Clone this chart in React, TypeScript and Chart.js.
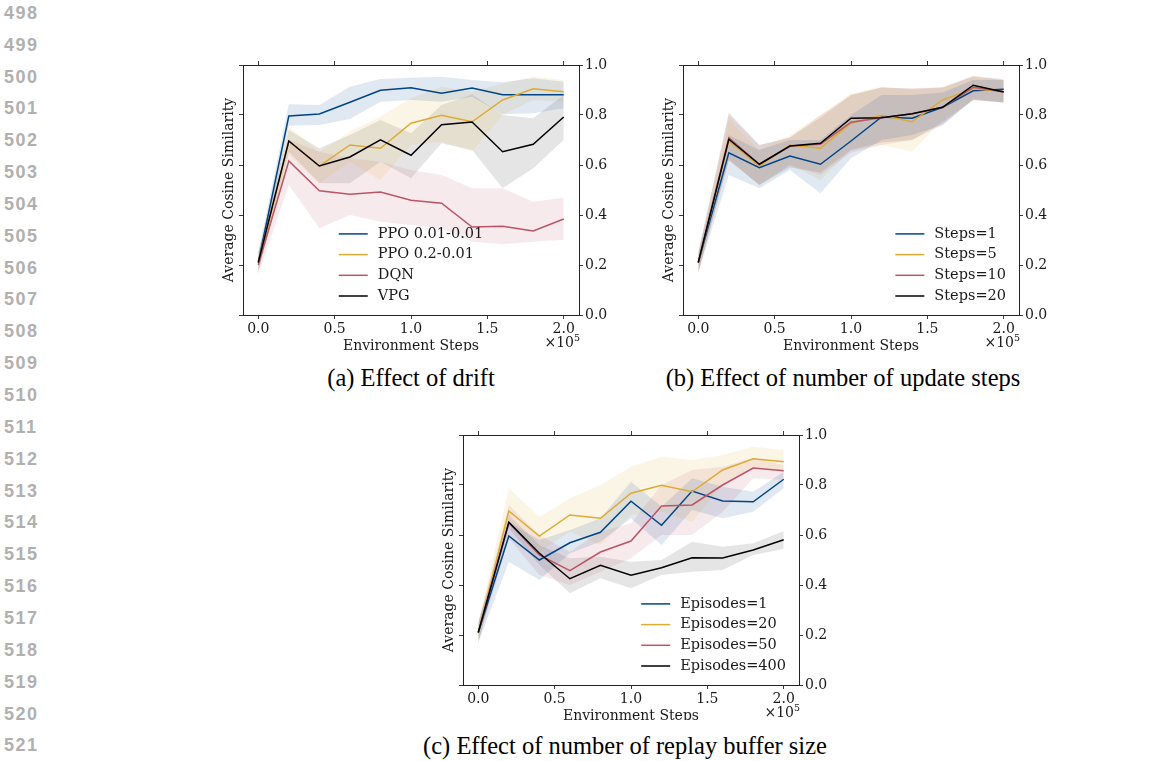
import React, { useEffect, useRef } from "react";
import { Chart, registerables } from "chart.js";
Chart.register(...registerables);

// ---------------- data ----------------
const steps = [0, 0.2, 0.4, 0.6, 0.8, 1.0, 1.2, 1.4, 1.6, 1.8, 2.0];
const xTicks = [0, 0.5, 1.0, 1.5, 2.0];
const yTicks = [0, 0.2, 0.4, 0.6, 0.8, 1.0];
const lineNumbers = [498, 499, 500, 501, 502, 503, 504, 505, 506, 507, 508, 509, 510, 511, 512, 513, 514, 515, 516, 517, 518, 519, 520, 521];

const COLORS = ["#004488", "#DDAA33", "#BB5566", "#000000"];
const BANDS = ["rgba(0,68,136,0.12)", "rgba(221,170,51,0.12)", "rgba(187,85,102,0.12)", "rgba(0,0,0,0.1)"];

// (a) Effect of drift
const driftLabels = ["PPO 0.01-0.01", "PPO 0.2-0.01", "DQN", "VPG"];
const ppo001Mean = [0.21, 0.796, 0.804, 0.851, 0.899, 0.909, 0.887, 0.908, 0.881, 0.881, 0.881];
const ppo001Hi = [0.25, 0.843, 0.84, 0.913, 0.944, 0.949, 0.953, 0.94, 0.931, 0.947, 0.933];
const ppo001Lo = [0.17, 0.757, 0.76, 0.784, 0.853, 0.86, 0.853, 0.873, 0.803, 0.807, 0.827];
const ppo02Mean = [0.21, 0.696, 0.596, 0.68, 0.667, 0.767, 0.799, 0.773, 0.86, 0.905, 0.893];
const ppo02Hi = [0.25, 0.753, 0.653, 0.733, 0.793, 0.867, 0.913, 0.893, 0.927, 0.953, 0.94];
const ppo02Lo = [0.17, 0.64, 0.527, 0.613, 0.54, 0.68, 0.693, 0.653, 0.8, 0.86, 0.853];
const dqnMean = [0.2, 0.616, 0.497, 0.483, 0.492, 0.459, 0.447, 0.352, 0.355, 0.336, 0.384];
const dqnHi = [0.24, 0.7, 0.653, 0.627, 0.613, 0.58, 0.56, 0.507, 0.507, 0.453, 0.469];
const dqnLo = [0.16, 0.52, 0.347, 0.4, 0.373, 0.36, 0.347, 0.293, 0.283, 0.293, 0.3];
const vpgMean = [0.21, 0.696, 0.596, 0.632, 0.701, 0.639, 0.761, 0.772, 0.653, 0.683, 0.792];
const vpgHi = [0.25, 0.74, 0.667, 0.72, 0.78, 0.727, 0.84, 0.883, 0.8, 0.787, 0.88];
const vpgLo = [0.17, 0.653, 0.527, 0.527, 0.613, 0.547, 0.687, 0.66, 0.507, 0.587, 0.7];

// (b) Effect of number of update steps
const stepLabels = ["Steps=1", "Steps=5", "Steps=10", "Steps=20"];
const s1Mean = [0.21, 0.649, 0.589, 0.636, 0.603, 0.696, 0.792, 0.787, 0.831, 0.897, 0.903];
const s1Hi = [0.25, 0.72, 0.66, 0.7, 0.7, 0.8, 0.88, 0.88, 0.89, 0.94, 0.94];
const s1Lo = [0.17, 0.56, 0.507, 0.58, 0.487, 0.627, 0.7, 0.72, 0.76, 0.86, 0.85];
const s5Mean = [0.21, 0.696, 0.596, 0.68, 0.667, 0.767, 0.799, 0.773, 0.86, 0.905, 0.893];
const s5Hi = [0.25, 0.78, 0.66, 0.72, 0.8, 0.887, 0.913, 0.9, 0.91, 0.95, 0.94];
const s5Lo = [0.17, 0.62, 0.52, 0.6, 0.54, 0.66, 0.68, 0.653, 0.78, 0.86, 0.85];
const s10Mean = [0.21, 0.709, 0.603, 0.676, 0.683, 0.771, 0.789, 0.805, 0.831, 0.911, 0.893];
const s10Hi = [0.25, 0.8, 0.68, 0.71, 0.8, 0.88, 0.91, 0.907, 0.911, 0.957, 0.944];
const s10Lo = [0.17, 0.62, 0.52, 0.6, 0.56, 0.65, 0.68, 0.7, 0.76, 0.865, 0.85];
const s20Mean = [0.21, 0.703, 0.603, 0.676, 0.687, 0.787, 0.789, 0.805, 0.831, 0.919, 0.892];
const s20Hi = [0.25, 0.81, 0.68, 0.71, 0.79, 0.88, 0.91, 0.905, 0.91, 0.955, 0.94];
const s20Lo = [0.17, 0.62, 0.52, 0.59, 0.57, 0.66, 0.69, 0.7, 0.77, 0.86, 0.85];

// (c) Effect of number of replay buffer size
const episodeLabels = ["Episodes=1", "Episodes=20", "Episodes=50", "Episodes=400"];
const e1Mean = [0.21, 0.596, 0.5, 0.569, 0.611, 0.735, 0.639, 0.776, 0.736, 0.733, 0.823];
const e1Hi = [0.25, 0.653, 0.58, 0.62, 0.667, 0.813, 0.713, 0.827, 0.793, 0.773, 0.853];
const e1Lo = [0.17, 0.493, 0.42, 0.527, 0.573, 0.667, 0.56, 0.7, 0.667, 0.693, 0.787];
const e20Mean = [0.21, 0.696, 0.596, 0.68, 0.667, 0.767, 0.799, 0.773, 0.86, 0.905, 0.893];
const e20Hi = [0.25, 0.787, 0.673, 0.747, 0.8, 0.873, 0.913, 0.9, 0.92, 0.953, 0.94];
const e20Lo = [0.17, 0.64, 0.533, 0.613, 0.56, 0.68, 0.693, 0.653, 0.8, 0.867, 0.853];
const e50Mean = [0.21, 0.649, 0.52, 0.457, 0.532, 0.576, 0.716, 0.72, 0.8, 0.868, 0.857];
const e50Hi = [0.25, 0.72, 0.6, 0.533, 0.613, 0.647, 0.8, 0.86, 0.873, 0.907, 0.88];
const e50Lo = [0.17, 0.587, 0.44, 0.4, 0.453, 0.507, 0.6, 0.6, 0.693, 0.827, 0.82];
const e400Mean = [0.21, 0.651, 0.527, 0.425, 0.479, 0.439, 0.469, 0.509, 0.508, 0.54, 0.581];
const e400Hi = [0.25, 0.68, 0.56, 0.507, 0.513, 0.493, 0.5, 0.573, 0.553, 0.567, 0.616];
const e400Lo = [0.17, 0.627, 0.48, 0.367, 0.427, 0.387, 0.44, 0.453, 0.46, 0.52, 0.544];

// ---------------- chart ----------------
type Series = { label: string; mean: number[]; hi: number[]; lo: number[]; color: string; band: string };

const makeSeries = (labels: string[], means: number[][], his: number[][], los: number[][]): Series[] =>
  labels.map((label, i) => ({ label, mean: means[i], hi: his[i], lo: los[i], color: COLORS[i], band: BANDS[i] }));

const seriesA = makeSeries(driftLabels, [ppo001Mean, ppo02Mean, dqnMean, vpgMean], [ppo001Hi, ppo02Hi, dqnHi, vpgHi], [ppo001Lo, ppo02Lo, dqnLo, vpgLo]);
const seriesB = makeSeries(stepLabels, [s1Mean, s5Mean, s10Mean, s20Mean], [s1Hi, s5Hi, s10Hi, s20Hi], [s1Lo, s5Lo, s10Lo, s20Lo]);
const seriesC = makeSeries(episodeLabels, [e1Mean, e20Mean, e50Mean, e400Mean], [e1Hi, e20Hi, e50Hi, e400Hi], [e1Lo, e20Lo, e50Lo, e400Lo]);

const FAMILY = "'DejaVu Serif'";
const FSIZE = 14;
const LEGEND_FSIZE = 14.5;
const TEXT = "#1a1a1a";
const SPINE = "#222";

const CW = 425;
const CH = 330;
const AX_LEFT = 43;
const AX_RIGHT = 46;
const AX_TOP = 20;
const AX_BOTTOM = 60;

function Panel(props: { series: Series[]; legendMode: "center" | "right"; left: number; top: number; clip: number }) {
  const ref = useRef<HTMLCanvasElement>(null);
  useEffect(() => {
    const { series, legendMode } = props;
    const pts = (arr: number[]) => steps.map((x, i) => ({ x, y: arr[i] }));
    const datasets: any[] = [];
    series.forEach((s, i) => {
      datasets.push({
        label: s.label,
        data: pts(s.mean),
        borderColor: s.color,
        borderWidth: 1.5,
        pointRadius: 0,
        fill: false,
        tension: 0,
        order: 10 - i,
        xAxisID: "x",
        yAxisID: "y",
      });
    });
    series.forEach((s) => {
      datasets.push({
        label: s.label + " upper",
        data: pts(s.hi),
        borderWidth: 0,
        borderColor: "rgba(0,0,0,0)",
        backgroundColor: s.band,
        pointRadius: 0,
        fill: "+1",
        tension: 0,
        order: 100,
        xAxisID: "x",
        yAxisID: "y",
      });
      datasets.push({
        label: s.label + " lower",
        data: pts(s.lo),
        borderWidth: 0,
        borderColor: "rgba(0,0,0,0)",
        pointRadius: 0,
        fill: false,
        tension: 0,
        order: 100,
        xAxisID: "x",
        yAxisID: "y",
      });
    });

    const font = { family: FAMILY, size: FSIZE };
    const grid = { display: true, drawOnChartArea: false, drawTicks: true, tickLength: 4, tickWidth: 0.9, tickColor: SPINE };
    const border = { display: true, color: SPINE, width: 1 };
    const setX = (s: any) => { s.ticks = xTicks.map((v) => ({ value: v })); };
    const setY = (s: any) => { s.ticks = yTicks.map((v) => ({ value: v })); };

    const deco = {
      id: "deco",
      afterDatasetsDraw(chart: any) {
        const { ctx, chartArea } = chart;
        ctx.save();
        ctx.font = `${LEGEND_FSIZE}px ${FAMILY}`;
        const maxW = Math.max(...series.map((s) => ctx.measureText(s.label).width));
        const lineLen = 29, gap = 10, rowH = 20.7;
        let textX: number;
        if (legendMode === "center") {
          const total = lineLen + gap + maxW;
          textX = (chartArea.left + chartArea.right) / 2 - total / 2 + lineLen + gap;
        } else {
          textX = chartArea.right - 13 - maxW;
        }
        series.forEach((s, i) => {
          const y = chartArea.bottom - 19 - (series.length - 1 - i) * rowH;
          ctx.strokeStyle = s.color;
          ctx.lineWidth = 1.5;
          ctx.beginPath();
          ctx.moveTo(textX - gap - lineLen, y);
          ctx.lineTo(textX - gap, y);
          ctx.stroke();
          ctx.fillStyle = TEXT;
          ctx.textBaseline = "middle";
          ctx.textAlign = "left";
          ctx.fillText(s.label, textX, y);
        });
        // offset text  x10^5
        const rightX = chartArea.right + 1;
        const oy = chartArea.bottom + 28;
        ctx.font = `9.5px ${FAMILY}`;
        const w5 = ctx.measureText("5").width;
        ctx.textAlign = "left";
        ctx.fillText("5", rightX - w5, oy - 4);
        ctx.font = `${FSIZE}px ${FAMILY}`;
        ctx.textAlign = "right";
        ctx.fillText("×10", rightX - w5, oy);
        ctx.restore();
      },
    };

    const chart = new Chart(ref.current as HTMLCanvasElement, {
      type: "line",
      data: { datasets },
      options: {
        animation: false,
        responsive: false,
        devicePixelRatio: 1,
        layout: { padding: 0 },
        plugins: { legend: { display: false }, tooltip: { enabled: false }, title: { display: false } },
        scales: {
          x: {
            type: "linear",
            position: "bottom",
            min: -0.1,
            max: 2.1,
            afterBuildTicks: setX,
            afterFit: (s: any) => { s.height = AX_BOTTOM; },
            grid,
            border,
            ticks: { font, color: TEXT, padding: 2, maxRotation: 0, callback: (v: any) => Number(v).toFixed(1) },
            title: { display: true, text: "Environment Steps", font, color: TEXT, padding: { top: 0, bottom: 20.6 } },
          },
          xT: {
            type: "linear",
            position: "top",
            min: -0.1,
            max: 2.1,
            afterBuildTicks: setX,
            afterFit: (s: any) => { s.height = AX_TOP; },
            grid,
            border,
            ticks: { display: false },
          },
          yL: {
            type: "linear",
            position: "left",
            min: 0,
            max: 1,
            afterBuildTicks: setY,
            afterFit: (s: any) => { s.width = AX_LEFT; },
            grid,
            border,
            ticks: { display: false },
            title: { display: true, text: "Average Cosine Similarity", font, color: TEXT, padding: { top: 21.1, bottom: 0 } },
          },
          y: {
            type: "linear",
            position: "right",
            min: 0,
            max: 1,
            afterBuildTicks: setY,
            afterFit: (s: any) => { s.width = AX_RIGHT; },
            grid,
            border,
            ticks: { font, color: TEXT, padding: 2, callback: (v: any) => Number(v).toFixed(1) },
          },
        },
      } as any,
      plugins: [deco],
    });
    return () => chart.destroy();
  }, []);

  return (
    <div style={{ position: "absolute", left: props.left, top: props.top, width: CW, height: props.clip, overflow: "hidden" }}>
      <canvas ref={ref} width={CW} height={CH} style={{ width: CW, height: CH, display: "block" }} />
    </div>
  );
}

const captionStyle = (cx: number, cy: number): React.CSSProperties => ({
  position: "absolute",
  left: cx - 300,
  top: cy - 15,
  width: 600,
  height: 30,
  lineHeight: "30px",
  textAlign: "center",
  fontFamily: "'Liberation Serif', serif",
  fontSize: 24.5,
  color: "#000",
  whiteSpace: "nowrap",
});

export default function App() {
  return (
    <div style={{ position: "absolute", left: 0, top: 0, width: 1158, height: 761, background: "#fff", overflow: "hidden" }}>
      {lineNumbers.map((n, i) => (
        <div
          key={n}
          style={{
            position: "absolute",
            left: 4,
            top: 12.8 + i * 31.85 - 10,
            height: 20,
            lineHeight: "20px",
            fontFamily: "'Liberation Sans', sans-serif",
            fontWeight: 700,
            fontSize: 18,
            letterSpacing: "1.5px",
            color: "#b0b0b0",
          }}
        >
          {n}
        </div>
      ))}
      <Panel series={seriesA} legendMode="center" left={200} top={45} clip={306} />
      <Panel series={seriesB} legendMode="right" left={640} top={45} clip={306} />
      <Panel series={seriesC} legendMode="right" left={420} top={415} clip={305} />
      <div style={captionStyle(411, 378)}>(a) Effect of drift</div>
      <div style={captionStyle(843, 378)}>(b) Effect of number of update steps</div>
      <div style={captionStyle(625, 746)}>(c) Effect of number of replay buffer size</div>
    </div>
  );
}
